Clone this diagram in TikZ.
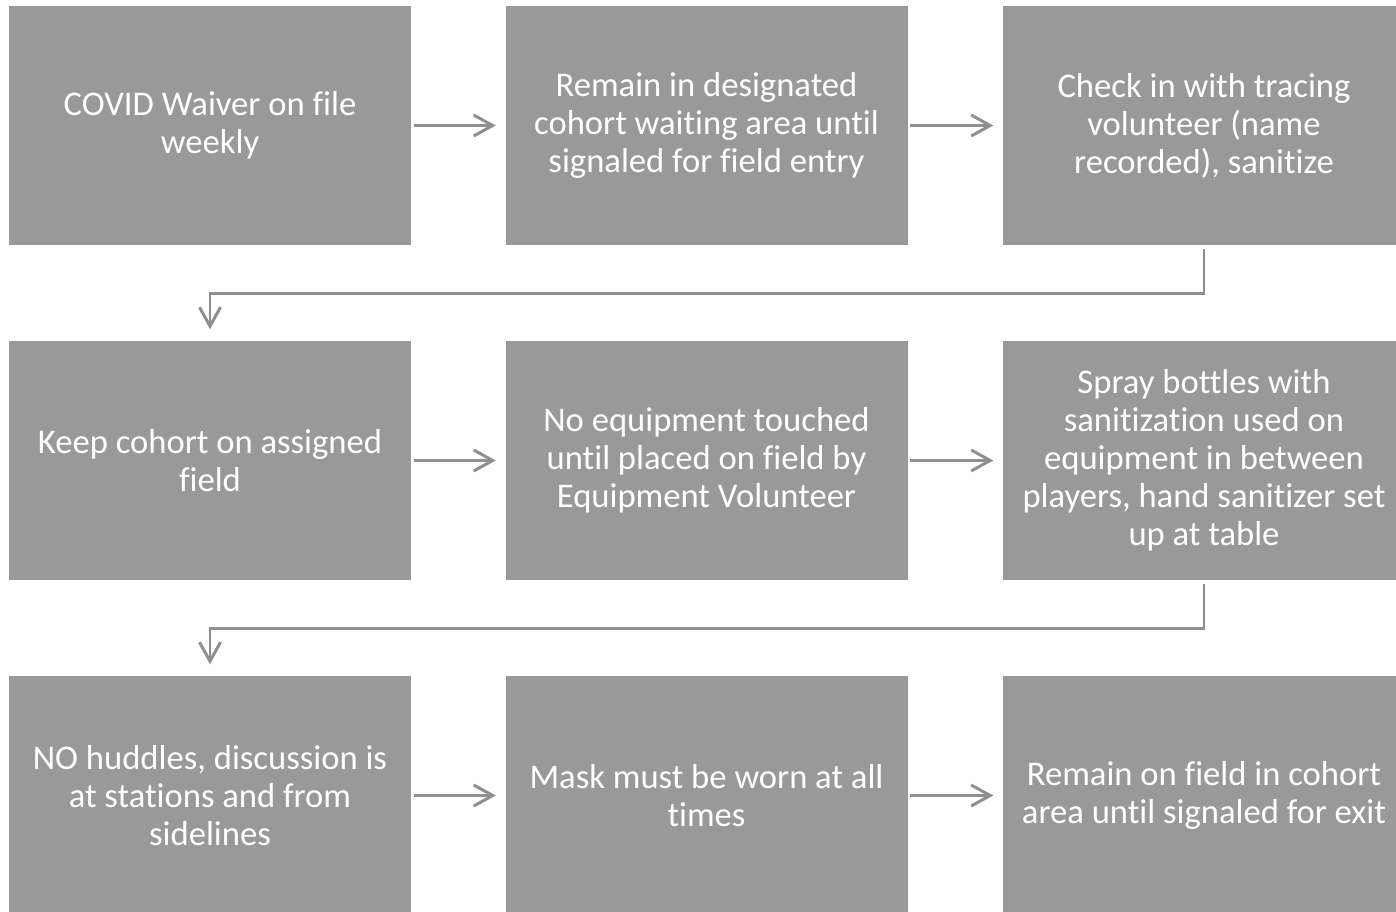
\documentclass[tikz,border=0pt]{standalone}
\usepackage{fontspec}
\setmainfont{Carlito}[Ligatures=NoCommon]
\usetikzlibrary{arrows.meta,calc,positioning}
\definecolor{boxgray}{HTML}{999999}
\definecolor{linegray}{HTML}{8F8F8F}
\tikzset{
  stepbox/.style={fill=boxgray,text=white,minimum width=4.02cm,minimum height=2.39cm,
    inner sep=0pt,align=center,font=\fontsize{9.85}{10.8}\selectfont},
  flow/.style={draw=linegray,line width=0.85pt,
    -{Straight Barb[length=1.9mm,width=2.1mm]}}
}
\begin{document}
\begin{tikzpicture}
			\useasboundingbox (0,0) rectangle (13.96,-9.12);
			% first row
			\node[stepbox] (s1) at (2.10,-1.255) {COVID Waiver on file\\weekly};
			\node[stepbox] (s2) at (7.065,-1.255) {Remain in designated\\cohort waiting area until\\signaled for field entry};
			\node[stepbox] (s3) at (12.04,-1.255) {Check in with tracing\\volunteer (name\\recorded), sanitize};
			% second row
			\node[stepbox] (s4) at (2.10,-4.605) {Keep cohort on assigned\\field};
			\node[stepbox] (s5) at (7.065,-4.605) {No equipment touched\\until placed on field by\\Equipment Volunteer};
			\node[stepbox] (s6) at (12.04,-4.605) {Spray bottles with\\sanitization used on\\equipment in between\\players, hand sanitizer set\\up at table};
			% third row
			\node[stepbox] (s7) at (2.10,-7.955) {NO huddles, discussion is\\at stations and from\\sidelines};
			\node[stepbox] (s8) at (7.065,-7.955) {Mask must be worn at all\\times};
			\node[stepbox] (s9) at (12.04,-7.955) {Remain on field in cohort\\area until signaled for exit};
			% arrows
			\draw[flow,shorten <=0.02cm,shorten >=0.09cm] (s1) -- (s2);
			\draw[flow,shorten <=0.02cm,shorten >=0.09cm] (s2) -- (s3);
			\draw[flow,shorten <=0.02cm,shorten >=0.09cm] (s4) -- (s5);
			\draw[flow,shorten <=0.02cm,shorten >=0.09cm] (s5) -- (s6);
			\draw[flow,shorten <=0.02cm,shorten >=0.09cm] (s7) -- (s8);
			\draw[flow,shorten <=0.02cm,shorten >=0.09cm] (s8) -- (s9);
			\draw[flow,shorten <=0.03cm,shorten >=0.11cm] (s3.south) -- ++(0,-0.475) -| (s4.north);
			\draw[flow,shorten <=0.03cm,shorten >=0.11cm] (s6.south) -- ++(0,-0.475) -| (s7.north);
\end{tikzpicture}
\end{document}
